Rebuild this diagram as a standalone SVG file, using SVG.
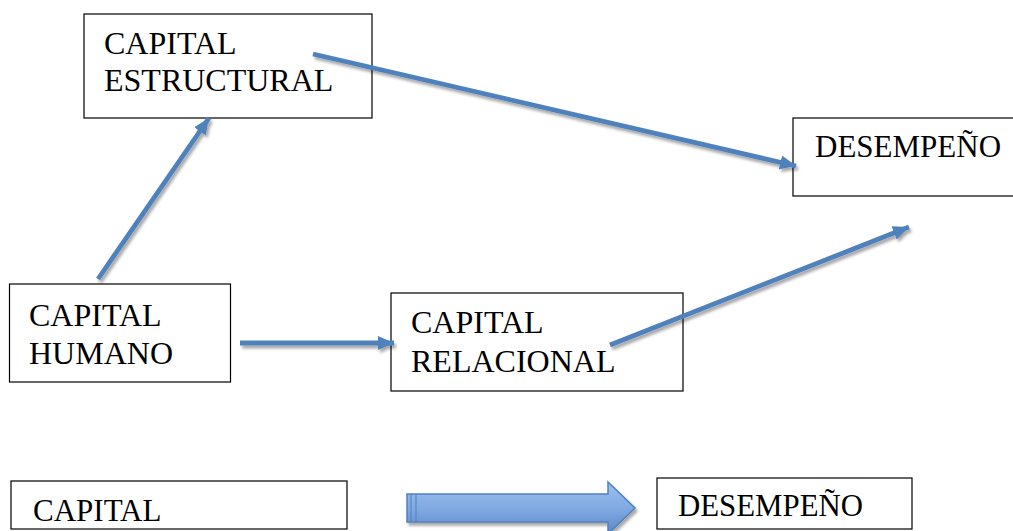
<svg xmlns="http://www.w3.org/2000/svg" width="1013" height="531" viewBox="0 0 1013 531">
  <style>
    .box { fill: #ffffff; stroke: #000000; stroke-width: 1.2; }
    .label { font-family: "Liberation Serif", "Times New Roman", serif; font-size: 32px; fill: #000000; }
    .small { font-size: 31px; }
    .link { fill: none; stroke: #4f81bd; stroke-width: 4.8; stroke-linecap: butt; }
  </style>
  <defs>
    <filter id="shadow" x="-10%" y="-10%" width="130%" height="130%">
      <feGaussianBlur in="SourceAlpha" stdDeviation="1.6" result="blur"/>
      <feOffset in="blur" dx="2" dy="3" result="off"/>
      <feComponentTransfer in="off" result="soft">
        <feFuncA type="linear" slope="0.35"/>
      </feComponentTransfer>
      <feMerge>
        <feMergeNode in="soft"/>
        <feMergeNode in="SourceGraphic"/>
      </feMerge>
    </filter>
    <marker id="head" markerUnits="userSpaceOnUse" markerWidth="18" markerHeight="16" refX="16" refY="8" orient="auto">
      <path d="M0,1 L16,8 L0,15 Z" fill="#4f81bd"/>
    </marker>
    <linearGradient id="blockFill" x1="0" y1="0" x2="0" y2="1">
      <stop offset="0" stop-color="#9dc0ef"/>
      <stop offset="0.55" stop-color="#7ea7e0"/>
      <stop offset="1" stop-color="#5a88c8"/>
    </linearGradient>
  </defs>

  <!-- nodes -->
  <g id="capital-estructural">
    <rect class="box" x="84" y="14" width="288" height="104"/>
    <text class="label" x="104" y="54">CAPITAL</text>
    <text class="label" x="104" y="91">ESTRUCTURAL</text>
  </g>

  <g id="desempeno-top">
    <rect class="box" x="793" y="118" width="225" height="78"/>
    <text class="label small" x="815" y="157">DESEMPEÑO</text>
  </g>

  <g id="capital-humano">
    <rect class="box" x="9.5" y="284" width="221" height="98"/>
    <text class="label" x="29" y="326">CAPITAL</text>
    <text class="label" x="29" y="364">HUMANO</text>
  </g>

  <g id="capital-relacional">
    <rect class="box" x="391" y="293" width="292" height="98"/>
    <text class="label" x="411" y="333">CAPITAL</text>
    <text class="label" x="411" y="372">RELACIONAL</text>
  </g>

  <g id="capital-bottom">
    <rect class="box" x="11" y="481" width="336" height="48"/>
    <text class="label small" x="33" y="521">CAPITAL</text>
  </g>

  <g id="desempeno-bottom">
    <rect class="box" x="657" y="478" width="255" height="51"/>
    <text class="label small" x="678" y="516" textLength="185" lengthAdjust="spacingAndGlyphs">DESEMPEÑO</text>
  </g>

  <!-- connectors -->
  <g id="connectors" filter="url(#shadow)">
    <line class="link" x1="313" y1="54" x2="796" y2="166" marker-end="url(#head)"/>
    <line class="link" x1="98" y1="279" x2="209" y2="118" marker-end="url(#head)"/>
    <line class="link" x1="240" y1="343" x2="394" y2="343" marker-end="url(#head)"/>
    <line class="link" x1="610" y1="345" x2="909" y2="227" marker-end="url(#head)"/>
    <g id="block-arrow">
      <path d="M407,494 L608,494 L608,482 L635,508 L608,534 L608,522 L407,522 Z" fill="url(#blockFill)" stroke="#4f81bd" stroke-width="1.5"/>
      <line x1="411" y1="494.5" x2="411" y2="521.5" stroke="#4f81bd" stroke-width="1"/>
      <line x1="416" y1="494.5" x2="416" y2="521.5" stroke="#4f81bd" stroke-width="1"/>
    </g>
  </g>
</svg>
